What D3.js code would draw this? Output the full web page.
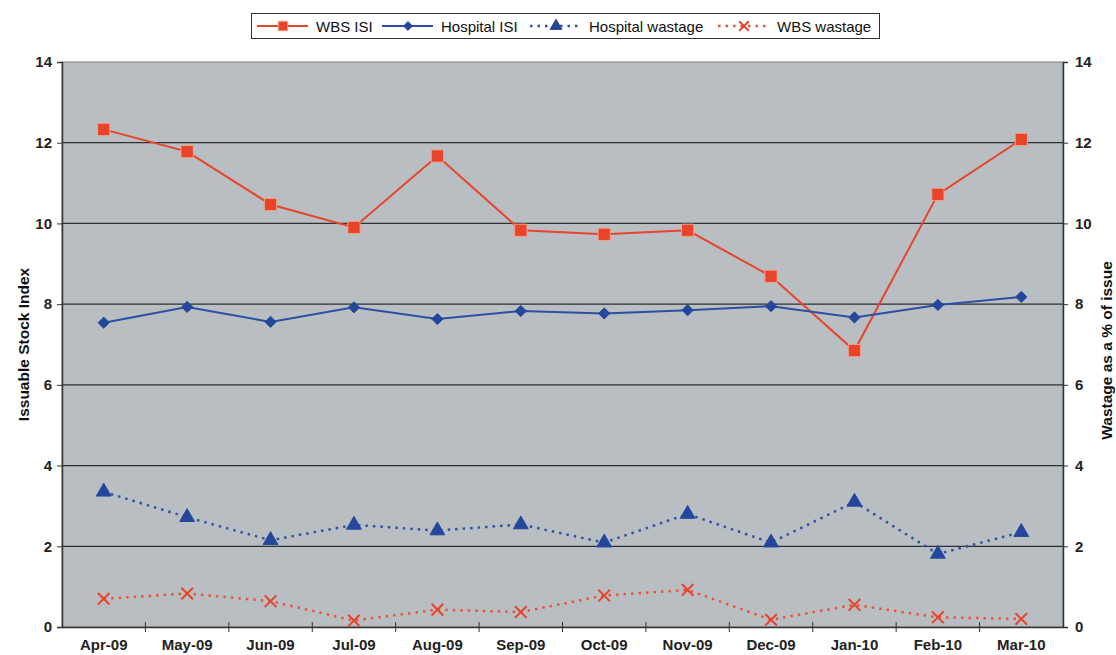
<!DOCTYPE html>
<html>
<head>
<meta charset="utf-8">
<script src="https://cdn.jsdelivr.net/npm/d3@7"></script>
<style>
  body { margin: 0; background: #fff; }
  text { font-family: Arial, "Liberation Sans", sans-serif; }
</style>
</head>
<body>
<svg id="chart" width="1116" height="655"></svg>
<script>
// months on the x axis
const months = ["Apr-09", "May-09", "Jun-09", "Jul-09", "Aug-09", "Sep-09",
                "Oct-09", "Nov-09", "Dec-09", "Jan-10", "Feb-10", "Mar-10"]

// issuable stock index, left axis
const wbsIsi = [12.33, 11.78, 10.47, 9.90, 11.67, 9.83, 9.73, 9.83, 8.69, 6.85, 10.72, 12.08]
const hospitalIsi = [7.54, 7.93, 7.56, 7.92, 7.63, 7.83, 7.77, 7.85, 7.95, 7.67, 7.98, 8.18]

// wastage as % of issue, right axis
const hospitalWastage = [3.35, 2.72, 2.15, 2.53, 2.39, 2.54, 2.09, 2.80, 2.09, 3.10, 1.81, 2.35]
const wbsWastage = [0.70, 0.83, 0.64, 0.16, 0.43, 0.37, 0.78, 0.92, 0.18, 0.55, 0.24, 0.20]

const yTicks = [0, 2, 4, 6, 8, 10, 12, 14]

const red = "#e8432b"
const blue = "#24479c"

let margin = { left: 62, top: 62, right: 53, bottom: 28 }
let width = 1116 - margin.left - margin.right
let height = 655 - margin.top - margin.bottom

let svg = d3.select("#chart")

let x = d3.scaleBand().domain(months).range([0, width])
let yLeft = d3.scaleLinear().domain([0, 14]).range([height, 0])
let yRight = d3.scaleLinear().domain([0, 14]).range([height, 0])

let g = svg.append("g")
    .attr("transform", "translate(" + margin.left + "," + margin.top + ")")

// plot background
g.append("rect")
    .attr("width", width)
    .attr("height", height)
    .attr("fill", "#b9bec2")
    .attr("stroke", "#7d8286")
    .attr("stroke-width", 1)

// horizontal gridlines
g.append("g")
    .selectAll("line")
    .data(yTicks.filter(d => d > 0 && d < 14))
    .join("line")
    .attr("x1", 0)
    .attr("x2", width)
    .attr("y1", d => yLeft(d))
    .attr("y2", d => yLeft(d))
    .attr("stroke", "#2e3133")
    .attr("stroke-width", 1.2)

// axes
let leftAxis = g.append("g")
    .call(d3.axisLeft(yLeft).tickValues(yTicks).tickSize(5).tickPadding(5))
let rightAxis = g.append("g")
    .attr("transform", "translate(" + width + ",0)")
    .call(d3.axisRight(yRight).tickValues(yTicks).tickSize(5).tickPadding(7))

let xAxis = g.append("g")
    .attr("transform", "translate(0," + height + ")")
    .call(d3.axisBottom(x).tickSize(0).tickPadding(12))

// x ticks sit on the band edges, not the centres
xAxis.selectAll(".edge")
    .data(d3.range(1, months.length))
    .join("line")
    .attr("class", "edge")
    .attr("x1", d => d * x.step())
    .attr("x2", d => d * x.step())
    .attr("y1", -5)
    .attr("y2", 5)
    .attr("stroke", "#333")

svg.selectAll(".domain").attr("stroke", "#333").attr("stroke-width", 1.5)
svg.selectAll(".tick line").attr("stroke", "#333")
svg.selectAll(".tick text")
    .attr("font-size", 15)
    .attr("font-weight", "bold")
    .attr("fill", "#222")

// axis titles
svg.append("text")
    .attr("transform", "translate(29," + (margin.top + height / 2) + ") rotate(-90)")
    .attr("text-anchor", "middle")
    .attr("font-size", 15.5)
    .attr("font-weight", "bold")
    .attr("fill", "#111")
    .text("Issuable Stock Index")

svg.append("text")
    .attr("transform", "translate(1112," + (margin.top + height / 2 + 6) + ") rotate(-90)")
    .attr("text-anchor", "middle")
    .attr("font-size", 15.5)
    .attr("font-weight", "bold")
    .attr("fill", "#111")
    .text("Wastage as a % of issue")

let cx = (d, i) => x(months[i]) + x.bandwidth() / 2

// symbol helpers
let square = d3.symbol().type(d3.symbolSquare).size(150)
let diamond = d3.symbol().type(d3.symbolDiamond2).size(80)
let triangle = d3.symbol().type(d3.symbolTriangle).size(95)
let cross = d3.symbol().type(d3.symbolX).size(90)

function drawSeries(values, scale, opt) {
    let line = d3.line().x(cx).y(d => scale(d))
    g.append("path")
        .datum(values)
        .attr("fill", "none")
        .attr("stroke", opt.color)
        .attr("stroke-width", opt.width)
        .attr("stroke-dasharray", opt.dash)
        .attr("d", line)

    let marks = g.append("g")
        .selectAll("path")
        .data(values)
        .join("path")
        .attr("transform", (d, i) => "translate(" + cx(d, i) + "," + scale(d) + ")")
        .attr("d", opt.symbol)
    if (opt.open) {
        marks.attr("fill", "none").attr("stroke", opt.mark).attr("stroke-width", 2)
    } else {
        marks.attr("fill", opt.mark).attr("stroke", opt.edge).attr("stroke-width", 1)
    }
}

let styles = [
    { name: "WBS ISI", values: wbsIsi, scale: yLeft, color: red, width: 2, dash: null,
      symbol: square, mark: red, edge: "#f4a08a", small: 90 },
    { name: "Hospital ISI", values: hospitalIsi, scale: yLeft, color: "#2c4fa3", width: 2, dash: null,
      symbol: diamond, mark: blue, edge: blue, small: 50 },
    { name: "Hospital wastage", values: hospitalWastage, scale: yRight, color: "#3350a5", width: 2.5, dash: "2.5,5",
      symbol: triangle, mark: blue, edge: blue, small: 60 },
    { name: "WBS wastage", values: wbsWastage, scale: yRight, color: "#e8553a", width: 2.5, dash: "2.5,5",
      symbol: cross, mark: "#e8432b", open: true, small: 60 }
]

styles.forEach(s => drawSeries(s.values, s.scale, s))

// legend
let legend = svg.append("g")
legend.append("rect")
    .attr("x", 251.5)
    .attr("y", 13.5)
    .attr("width", 628)
    .attr("height", 25)
    .attr("fill", "#fff")
    .attr("stroke", "#333")
    .attr("stroke-width", 1)

let legendX = [257, 382, 530, 718]
styles.forEach((s, i) => {
    let item = legend.append("g").attr("transform", "translate(" + legendX[i] + ",26)")
    item.append("line")
        .attr("x1", 0).attr("x2", 51)
        .attr("stroke", s.color)
        .attr("stroke-width", s.width)
        .attr("stroke-dasharray", s.dash)
    let symType = [d3.symbolSquare, d3.symbolDiamond2, d3.symbolTriangle, d3.symbolX][i]
    let m = item.append("path")
        .attr("transform", "translate(26,0)")
        .attr("d", d3.symbol().type(symType).size(s.small))
    if (s.open) {
        m.attr("fill", "none").attr("stroke", s.mark).attr("stroke-width", 2)
    } else {
        m.attr("fill", s.mark).attr("stroke", s.edge)
    }
    item.append("text")
        .attr("x", 59)
        .attr("y", 5.5)
        .attr("font-size", 15)
        .attr("fill", "#111")
        .text(s.name)
})
</script>
</body>
</html>
